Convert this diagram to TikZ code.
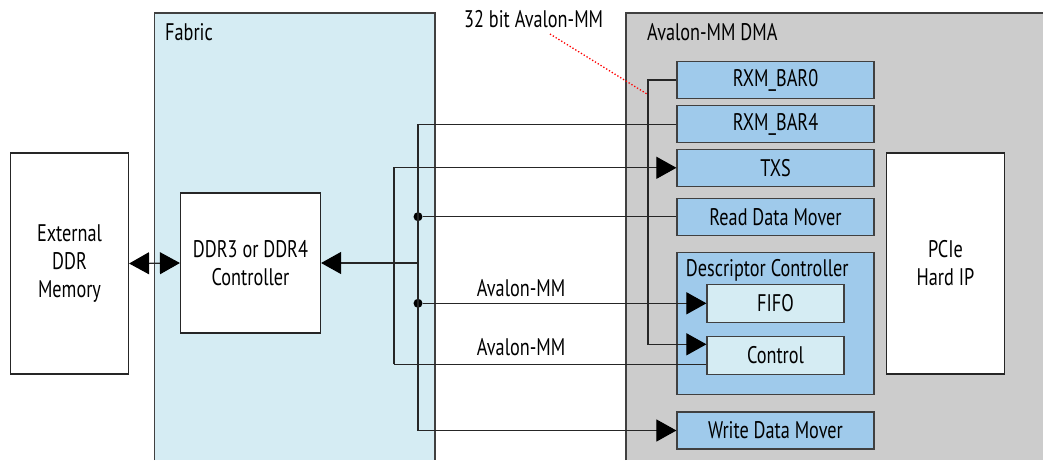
\documentclass[tikz,border=0pt]{standalone}
\usepackage{fontspec}
\setmainfont{PT Sans}[FakeStretch=0.76]
\usetikzlibrary{arrows.meta}
\definecolor{fabricbg}{HTML}{D5ECF3}
\definecolor{dmabg}{HTML}{CCCCCC}
\definecolor{blockbg}{HTML}{9FCAEB}
\definecolor{linec}{HTML}{262626}
\definecolor{edgec}{HTML}{404040}
\tikzset{
  whitebox/.style={draw=black!85, line width=1.2pt, fill=white, align=center, inner sep=0pt},
  blockbox/.style={draw=edgec, line width=1.2pt, fill=blockbg, align=center, inner sep=0pt, minimum width=197pt, minimum height=37pt},
  subbox/.style={draw=edgec, line width=1.2pt, fill=fabricbg, align=center, inner sep=0pt, minimum width=137pt, minimum height=38pt},
  conn/.style={draw=linec, line width=1.1pt},
  tip/.tip={Triangle[length=20pt,width=22pt,color=black,fill=black]},
  arr/.style={conn, -tip},
  darr/.style={conn, tip-tip},
  lbl/.style={inner sep=0pt, font=\fontsize{24}{28}\selectfont},
  jdot/.style={circle, fill=black, inner sep=0pt, minimum size=9pt}
}
\begin{document}
\begin{tikzpicture}[x=1pt,y=-1pt, every node/.style={font=\fontsize{24}{28}\selectfont}]
\useasboundingbox (0,0) rectangle (1043,460);
% regions
\fill[fabricbg] (154.5,13) rectangle (435,460);
\draw[edgec, line width=1.2pt] (154.5,460) -- (154.5,13) -- (435,13) -- (435,460);
\fill[dmabg] (626,13) rectangle (1043,460);
\draw[edgec, line width=1.2pt] (626,460) -- (626,13) -- (1043,13);
\node[lbl, anchor=base west] (fabriclbl) at (165,41) {Fabric};
\node[lbl, anchor=base west] (dmalbl) at (647,41) {Avalon-MM DMA};
\node[lbl, anchor=base west] (bitlbl) at (464,28) {32 bit Avalon-MM};
% boxes
\node[whitebox, minimum width=118pt, minimum height=221pt] (ext) at (69.5,263.5) {External\\DDR\\Memory};
\node[whitebox, minimum width=140pt, minimum height=140pt] (ddr) at (250.5,263) {DDR3 or DDR4\\Controller};
\node[whitebox, minimum width=118pt, minimum height=221pt] (pcie) at (945.5,263.5) {PCIe\\Hard IP};
\node[blockbox] (bar0) at (775.5,80) {RXM\_BAR0};
\node[blockbox] (bar4) at (775.5,124.3) {RXM\_BAR4};
\node[blockbox] (txs) at (775.5,167.8) {TXS};
\node[blockbox] (rdm) at (775.5,216.7) {Read Data Mover};
\node[blockbox, minimum height=141.5pt] (desc) at (775.5,323.5) {};
\node[lbl, anchor=base west] (desclbl) at (685.7,276.7) {Descriptor Controller};
\node[subbox] (fifo) at (775.5,303.3) {FIFO};
\node[subbox] (ctrl) at (775.5,355.5) {Control};
\node[blockbox] (wdm) at (775.5,430.5) {Write Data Mover};
% junction coordinates
\coordinate (b4c) at (418,124.3);
\coordinate (wdc) at (418,430.5);
\coordinate (txc) at (394,167.8);
\coordinate (ctc) at (394,364.3);
\coordinate (ctin) at (ctrl.west |- 0,364.3);
\coordinate (b0c) at (648,80);
\coordinate (b0d) at (648,344.3);
\coordinate (ctarr) at (ctrl.west |- 0,344.3);
\node[jdot] (d1) at (418,216.7) {};
\node[jdot] (d2) at (418,303.3) {};
\coordinate (ddrc) at (418,263);
% connectors
\draw[conn] (bar4.west) -- (b4c) -- (wdc);
\draw[arr] (wdc) -- (wdm.west);
\draw[conn] (d1) -- (rdm.west);
\draw[arr] (d2) -- (fifo.west);
\draw[arr] (ddrc) -- (ddr.east);
\draw[arr] (ctc) -- (txc) -- (txs.west);
\draw[conn] (ctc) -- (ctin);
\draw[arr] (bar0.west) -- (b0c) -- (b0d) -- (ctarr);
\draw[darr] (ext.east) -- (ddr.west);
\node[lbl, anchor=base west] (av1) at (476.7,296.7) {Avalon-MM};
\node[lbl, anchor=base west] (av2) at (476.7,355) {Avalon-MM};
% red annotation
\coordinate (rs) at (550,34);
\coordinate (re) at (647,94);
\draw[red, dotted, line width=1.3pt] (rs) -- (re);
\end{tikzpicture}
\end{document}
